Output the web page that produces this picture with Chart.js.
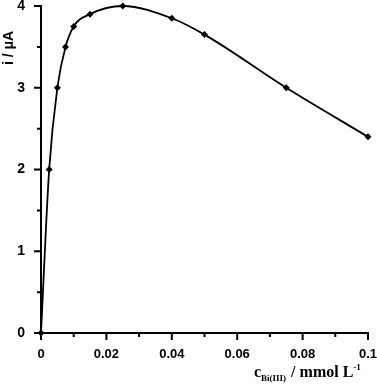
<!DOCTYPE html>
<html>
<head>
<meta charset="utf-8">
<script src="https://cdn.jsdelivr.net/npm/chart.js@4.4.0/dist/chart.umd.min.js"></script>
<style>
  html, body { margin: 0; padding: 0; background: #fff; }
  #wrap { width: 377px; height: 387px; position: relative; }
</style>
</head>
<body>
<div id="wrap"><canvas id="c"></canvas></div>
<script>
// concentration of Bi(III), mmol/L
const conc = [0, 0.0025, 0.005, 0.0075, 0.01, 0.015, 0.025, 0.04, 0.05, 0.075, 0.1];
// peak current, uA
const current = [0, 2.0, 3.0, 3.5, 3.75, 3.9, 4.0, 3.85, 3.65, 3.0, 2.4];

const xMajor = [0, 0.02, 0.04, 0.06, 0.08, 0.1];
const xLabels = ['0', '0.02', '0.04', '0.06', '0.08', '0.1'];
const yMajor = [0, 1, 2, 3, 4];

const tickFont = { family: 'Liberation Sans, Arial, sans-serif', size: 13, weight: 'bold' };

// draws major/minor ticks and the axis titles (subscript needs manual text)
const axisDecor = {
  id: 'axisDecor',
  afterDraw(chart) {
    const ctx = chart.ctx;
    const xs = chart.scales.x, ys = chart.scales.y;
    const area = chart.chartArea;
    ctx.save();
    ctx.strokeStyle = '#000';
    ctx.lineWidth = 2;
    ctx.beginPath();
    for (let i = 0; i <= 10; i++) {
      const px = xs.getPixelForValue(i * 0.01);
      const len = i % 2 === 0 ? 7 : 4;
      ctx.moveTo(px, area.bottom);
      ctx.lineTo(px, area.bottom + len);
    }
    for (let i = 0; i <= 8; i++) {
      const py = ys.getPixelForValue(i * 0.5);
      const len = i % 2 === 0 ? 7 : 4;
      ctx.moveTo(area.left, py);
      ctx.lineTo(area.left - len, py);
    }
    ctx.stroke();

    // y title
    ctx.fillStyle = '#000';
    ctx.font = 'bold 14px "Liberation Sans", Arial, sans-serif';
    ctx.textAlign = 'center';
    ctx.textBaseline = 'middle';
    ctx.translate(9, 48);
    ctx.rotate(-Math.PI / 2);
    ctx.fillText('i / \u03bcA', 0, 0);
    ctx.setTransform(1, 0, 0, 1, 0, 0);

    // x title: c_Bi(III) / mmol L^-1
    ctx.textAlign = 'left';
    ctx.textBaseline = 'alphabetic';
    let x = 254, y = 377;
    const serif = '"Liberation Serif", "Times New Roman", serif';
    ctx.font = 'bold 16px ' + serif;
    ctx.fillText('c', x, y); x += ctx.measureText('c').width;
    ctx.font = 'bold 9px ' + serif;
    ctx.fillText('Bi(III)', x, y + 4); x += ctx.measureText('Bi(III)').width + 1;
    ctx.font = 'bold 16px ' + serif;
    const mid = ' / mmol L';
    ctx.fillText(mid, x, y); x += ctx.measureText(mid).width;
    ctx.font = 'bold 9px ' + serif;
    ctx.fillText('-1', x, y - 7);
    ctx.restore();
  }
};

new Chart(document.getElementById('c'), {
  type: 'line',
  data: {
    datasets: [{
      data: conc.map((c, i) => ({ x: c, y: current[i] })),
      borderColor: '#000',
      borderWidth: 1.8,
      backgroundColor: '#000',
      pointStyle: 'rectRot',
      pointRadius: 3.5,
      pointHoverRadius: 3.5,
      pointBorderWidth: 0,
      cubicInterpolationMode: 'monotone',
      clip: false
    }]
  },
  options: {
    responsive: true,
    maintainAspectRatio: false,
    animation: false,
    devicePixelRatio: 1,
    layout: { autoPadding: false, padding: { top: 6, right: 9, left: 0, bottom: 0 } },
    plugins: { legend: { display: false }, tooltip: { enabled: false } },
    scales: {
      x: {
        type: 'linear',
        min: 0, max: 0.1,
        afterBuildTicks: s => { s.ticks = xMajor.map(v => ({ value: v })); },
        afterFit: s => { s.height = 54; s.paddingLeft = 0; s.paddingRight = 0; },
        grid: { display: false },
        border: { display: true, color: '#000', width: 2 },
        ticks: {
          color: '#000', font: tickFont, padding: 6, maxRotation: 0, autoSkip: false,
          callback: (v, i) => xLabels[i]
        }
      },
      y: {
        type: 'linear',
        min: 0, max: 4,
        afterBuildTicks: s => { s.ticks = yMajor.map(v => ({ value: v })); },
        afterFit: s => { s.width = 41; s.paddingTop = 0; s.paddingBottom = 0; },
        grid: { display: false },
        border: { display: true, color: '#000', width: 2 },
        ticks: { color: '#000', font: { ...tickFont, size: 14 }, padding: 8 }
      }
    }
  },
  plugins: [axisDecor]
});
</script>
</body>
</html>
